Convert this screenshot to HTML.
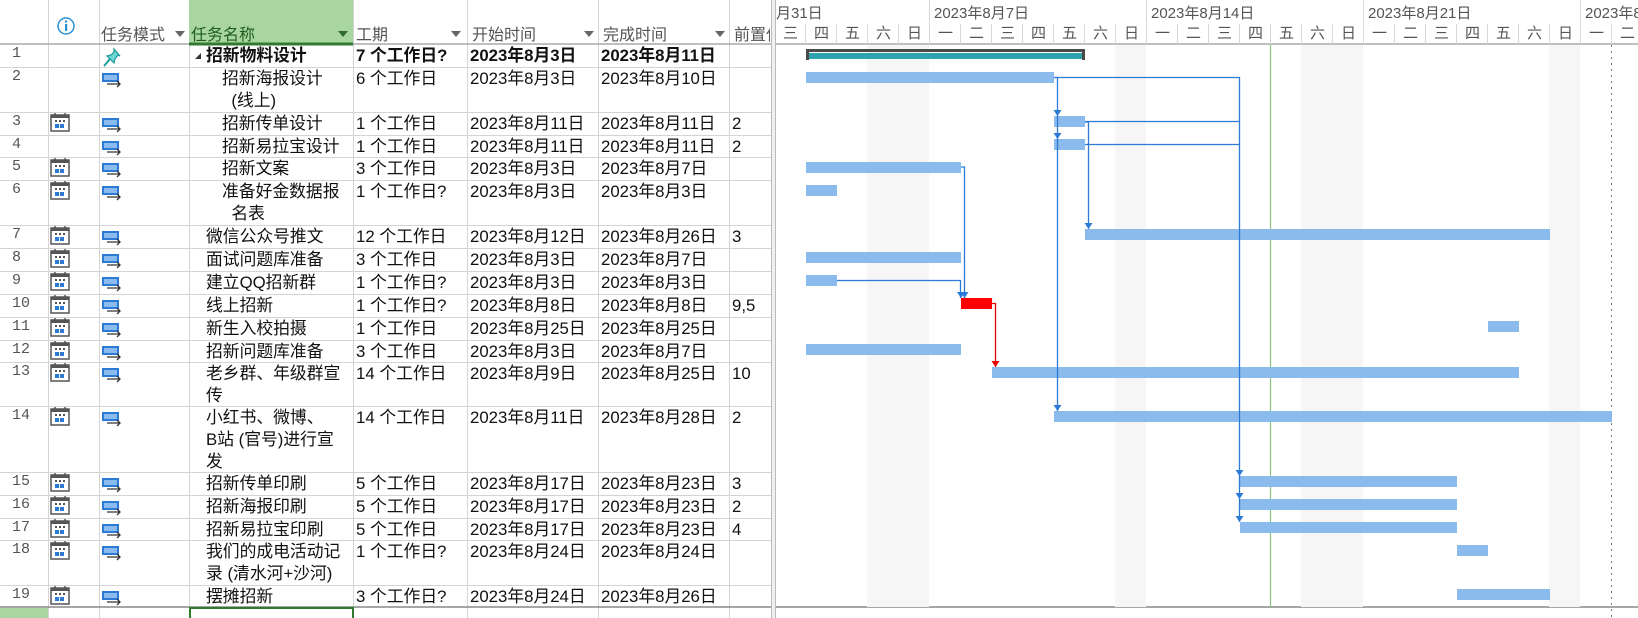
<!DOCTYPE html>
<html><head><meta charset="utf-8">
<style>
*{margin:0;padding:0;box-sizing:border-box}
body{width:1638px;height:618px;overflow:hidden;background:#fff;position:relative;font-family:"Liberation Sans","Noto Sans CJK SC",sans-serif;color:#111}
.t{position:absolute;font-size:16.8px;line-height:22px;white-space:nowrap}
.h{position:absolute;font-size:16px;color:#555;top:21px;white-space:nowrap}
.b{font-weight:bold}
.n{position:absolute;font-size:15px;color:#555;left:12px;font-family:"Liberation Mono",monospace}
.dd{position:absolute;top:31px;width:0;height:0;border-left:5px solid transparent;border-right:5px solid transparent;border-top:6px solid #666}
</style></head><body>
<svg width="1638" height="618" style="position:absolute;left:0;top:0">
<defs>
<g id="cal"><rect x="1" y="2" width="18" height="16" fill="#fff" stroke="#555" stroke-width="1.5"/><rect x="1" y="2" width="18" height="3" fill="#555"/><line x1="5" y1="0" x2="5" y2="3" stroke="#555" stroke-width="1.5"/><line x1="15" y1="0" x2="15" y2="3" stroke="#555" stroke-width="1.5"/><rect x="5" y="7" width="2" height="2" fill="#555"/><rect x="9" y="7" width="2" height="2" fill="#555"/><rect x="13" y="7" width="2" height="2" fill="#555"/><rect x="5" y="11" width="4" height="4" fill="#2b7bd6"/><rect x="10" y="11" width="4" height="4" fill="#2b7bd6"/></g>
<g id="mode"><rect x="0" y="0" width="17" height="9" fill="#2b7bd6"/><rect x="2" y="2" width="13" height="5" fill="#8bbbec"/><path d="M5 11 H18 M15 8 L18 11 L15 14" stroke="#333" stroke-width="1.3" fill="none"/></g>
<path id="ar" d="M-4 -6 H4 L0 0 Z"/>
</defs>
<g stroke="#d4d4d4" stroke-width="1">
<line x1="0" y1="67.5" x2="771" y2="67.5"/><line x1="0" y1="112.5" x2="771" y2="112.5"/><line x1="0" y1="135.5" x2="771" y2="135.5"/><line x1="0" y1="157.5" x2="771" y2="157.5"/><line x1="0" y1="180.5" x2="771" y2="180.5"/><line x1="0" y1="225.5" x2="771" y2="225.5"/><line x1="0" y1="248.5" x2="771" y2="248.5"/><line x1="0" y1="271.5" x2="771" y2="271.5"/><line x1="0" y1="294.5" x2="771" y2="294.5"/><line x1="0" y1="317.5" x2="771" y2="317.5"/><line x1="0" y1="340.5" x2="771" y2="340.5"/><line x1="0" y1="362.5" x2="771" y2="362.5"/><line x1="0" y1="406.5" x2="771" y2="406.5"/><line x1="0" y1="472.5" x2="771" y2="472.5"/><line x1="0" y1="495.5" x2="771" y2="495.5"/><line x1="0" y1="518.5" x2="771" y2="518.5"/><line x1="0" y1="540.5" x2="771" y2="540.5"/><line x1="0" y1="585.5" x2="771" y2="585.5"/>
<line x1="48.5" y1="0" x2="48.5" y2="618"/><line x1="99.5" y1="0" x2="99.5" y2="618"/><line x1="189.5" y1="0" x2="189.5" y2="618"/><line x1="353.5" y1="0" x2="353.5" y2="618"/><line x1="467.5" y1="0" x2="467.5" y2="618"/><line x1="598.5" y1="0" x2="598.5" y2="618"/><line x1="729.5" y1="0" x2="729.5" y2="618"/>
</g>
<rect x="189" y="0" width="164" height="44" fill="#a9d5a0"/>
<line x1="0" y1="44" x2="1638" y2="44" stroke="#aaa" stroke-width="1.5"/>
<line x1="189" y1="44" x2="353" y2="44" stroke="#2f7a2f" stroke-width="3"/>
<line x1="0" y1="607" x2="1638" y2="607" stroke="#888" stroke-width="1.5"/>
<rect x="0" y="608" width="48" height="10" fill="#a9d5a0"/>
<rect x="190" y="608" width="163" height="12" fill="none" stroke="#2f7a2f" stroke-width="2"/>
<rect x="771" y="0" width="4" height="618" fill="#f0f0f0"/>
<line x1="771.5" y1="0" x2="771.5" y2="618" stroke="#bbb"/><line x1="775.5" y1="0" x2="775.5" y2="618" stroke="#bbb"/>
<circle cx="66" cy="26" r="8" fill="none" stroke="#2b8fd6" stroke-width="1.5"/><rect x="65" y="24" width="2.2" height="7" fill="#2b8fd6"/><rect x="65" y="20.5" width="2.2" height="2" fill="#2b8fd6"/>
<g transform="translate(102,48)"><path d="M8 11 L2 18" stroke="#1a9a9a" stroke-width="2"/><path d="M5 8 L12 15 L13 11 L16 7 L18 8 L12 1 L12 4 L9 7 Z" fill="#6fd6d6" stroke="#1a9a9a" stroke-width="1.2"/></g>
<use href="#mode" x="102" y="73"/>
<use href="#cal" x="50" y="113"/><use href="#mode" x="102" y="118"/>
<use href="#mode" x="102" y="141"/>
<use href="#cal" x="50" y="158"/><use href="#mode" x="102" y="163"/>
<use href="#cal" x="50" y="181"/><use href="#mode" x="102" y="186"/>
<use href="#cal" x="50" y="226"/><use href="#mode" x="102" y="231"/>
<use href="#cal" x="50" y="249"/><use href="#mode" x="102" y="254"/>
<use href="#cal" x="50" y="272"/><use href="#mode" x="102" y="277"/>
<use href="#cal" x="50" y="295"/><use href="#mode" x="102" y="300"/>
<use href="#cal" x="50" y="318"/><use href="#mode" x="102" y="323"/>
<use href="#cal" x="50" y="341"/><use href="#mode" x="102" y="346"/>
<use href="#cal" x="50" y="363"/><use href="#mode" x="102" y="368"/>
<use href="#cal" x="50" y="407"/><use href="#mode" x="102" y="412"/>
<use href="#cal" x="50" y="473"/><use href="#mode" x="102" y="478"/>
<use href="#cal" x="50" y="496"/><use href="#mode" x="102" y="501"/>
<use href="#cal" x="50" y="519"/><use href="#mode" x="102" y="524"/>
<use href="#cal" x="50" y="541"/><use href="#mode" x="102" y="546"/>
<use href="#cal" x="50" y="586"/><use href="#mode" x="102" y="591"/>
<path d="M195 59 L201 59 L201 53 Z" fill="#333"/>
<g fill="#f6f6f6">
<rect x="867" y="45" width="62" height="562"/><rect x="1115" y="45" width="31" height="562"/><rect x="1301" y="45" width="62" height="562"/><rect x="1549" y="45" width="31" height="562"/>
</g>
<g stroke="#d8d8d8">
<line x1="929.5" y1="0" x2="929.5" y2="44"/><line x1="1146.5" y1="0" x2="1146.5" y2="44"/><line x1="1363.5" y1="0" x2="1363.5" y2="44"/><line x1="1580.5" y1="0" x2="1580.5" y2="44"/>
<line x1="805.5" y1="24" x2="805.5" y2="44"/><line x1="836.5" y1="24" x2="836.5" y2="44"/><line x1="867.5" y1="24" x2="867.5" y2="44"/><line x1="898.5" y1="24" x2="898.5" y2="44"/><line x1="960.5" y1="24" x2="960.5" y2="44"/><line x1="991.5" y1="24" x2="991.5" y2="44"/><line x1="1022.5" y1="24" x2="1022.5" y2="44"/><line x1="1053.5" y1="24" x2="1053.5" y2="44"/><line x1="1084.5" y1="24" x2="1084.5" y2="44"/><line x1="1115.5" y1="24" x2="1115.5" y2="44"/><line x1="1177.5" y1="24" x2="1177.5" y2="44"/><line x1="1208.5" y1="24" x2="1208.5" y2="44"/><line x1="1239.5" y1="24" x2="1239.5" y2="44"/><line x1="1270.5" y1="24" x2="1270.5" y2="44"/><line x1="1301.5" y1="24" x2="1301.5" y2="44"/><line x1="1332.5" y1="24" x2="1332.5" y2="44"/><line x1="1394.5" y1="24" x2="1394.5" y2="44"/><line x1="1425.5" y1="24" x2="1425.5" y2="44"/><line x1="1456.5" y1="24" x2="1456.5" y2="44"/><line x1="1487.5" y1="24" x2="1487.5" y2="44"/><line x1="1518.5" y1="24" x2="1518.5" y2="44"/><line x1="1549.5" y1="24" x2="1549.5" y2="44"/><line x1="1611.5" y1="24" x2="1611.5" y2="44"/>
</g>
<line x1="1270.5" y1="45" x2="1270.5" y2="607" stroke="#8cc67c" stroke-width="1.2"/>
<line x1="1611.5" y1="45" x2="1611.5" y2="618" stroke="#777" stroke-dasharray="2,4"/>
<rect x="806" y="49" width="279" height="3" fill="#4a4a4a"/><rect x="806" y="49" width="3" height="11" fill="#4a4a4a"/><rect x="1082" y="49" width="3" height="11" fill="#4a4a4a"/><rect x="809" y="53" width="273" height="6" fill="#2ea3ad"/>
<g fill="#8bbbec">
<rect x="806" y="72" width="248" height="11"/>
<rect x="1054" y="116" width="31" height="11"/>
<rect x="1054" y="139" width="31" height="11"/>
<rect x="806" y="162" width="155" height="11"/>
<rect x="806" y="185" width="31" height="11"/>
<rect x="1085" y="229" width="465" height="11"/>
<rect x="806" y="252" width="155" height="11"/>
<rect x="806" y="275" width="31" height="11"/>
<rect x="1488" y="321" width="31" height="11"/>
<rect x="806" y="344" width="155" height="11"/>
<rect x="992" y="367" width="527" height="11"/>
<rect x="1054" y="411" width="558" height="11"/>
<rect x="1240" y="476" width="217" height="11"/>
<rect x="1240" y="499" width="217" height="11"/>
<rect x="1240" y="522" width="217" height="11"/>
<rect x="1457" y="545" width="31" height="11"/>
<rect x="1457" y="589" width="93" height="11"/>
</g>
<rect x="961" y="298" width="31" height="11" fill="#f00"/>
<g stroke="#2b7bd6" stroke-width="1.3" fill="none">
<path d="M1054 77.5 H1239.5 V522"/>
<path d="M1054 77.5 H1057.5 V411"/>
<path d="M1085 121.5 H1239.5"/>
<path d="M1085 144.5 H1239.5"/>
<path d="M1085 122 H1088.5 V229"/>
<path d="M961 167 H964.5 V298"/>
<path d="M837 280.5 H960.5 V298"/>
</g>
<g fill="#2b7bd6">
<use href="#ar" x="1057.5" y="116"/><use href="#ar" x="1057.5" y="139"/><use href="#ar" x="1057.5" y="411"/>
<use href="#ar" x="1088.5" y="229"/>
<use href="#ar" x="1239.5" y="476"/><use href="#ar" x="1239.5" y="499"/><use href="#ar" x="1239.5" y="522"/>
<use href="#ar" x="961" y="298"/><use href="#ar" x="964.5" y="298"/>
</g>
<path d="M992 303.5 H995.5 V367" stroke="#e00" stroke-width="1.3" fill="none"/>
<use href="#ar" x="995.5" y="367" fill="#e00"/>
</svg>

<div class="h" style="left:101px">任务模式</div><div class="dd" style="left:175px"></div>
<div class="h" style="left:191px;color:#1d5e1d">任务名称</div><div class="dd" style="left:338px;border-top-color:#2f6a2f"></div>
<div class="h" style="left:356px">工期</div><div class="dd" style="left:451px"></div>
<div class="h" style="left:472px">开始时间</div><div class="dd" style="left:584px"></div>
<div class="h" style="left:603px">完成时间</div><div class="dd" style="left:715px"></div>
<div class="h" style="left:734px;width:36px;overflow:hidden">前置任务</div>
<div class="h" style="left:776px;top:2px;font-size:15px">月31日</div>
<div class="h" style="left:934px;top:2px;font-size:15px">2023年8月7日</div>
<div class="h" style="left:1151px;top:2px;font-size:15px">2023年8月14日</div>
<div class="h" style="left:1368px;top:2px;font-size:15px">2023年8月21日</div>
<div class="h" style="left:1585px;top:2px;font-size:15px;width:53px;overflow:hidden">2023年8月28日</div>
<div class="h" style="left:775px;top:22px;font-size:15px;display:flex">
<span style="width:31px;text-align:center">三</span><span style="width:31px;text-align:center">四</span><span style="width:31px;text-align:center">五</span><span style="width:31px;text-align:center">六</span><span style="width:31px;text-align:center">日</span><span style="width:31px;text-align:center">一</span><span style="width:31px;text-align:center">二</span><span style="width:31px;text-align:center">三</span><span style="width:31px;text-align:center">四</span><span style="width:31px;text-align:center">五</span><span style="width:31px;text-align:center">六</span><span style="width:31px;text-align:center">日</span><span style="width:31px;text-align:center">一</span><span style="width:31px;text-align:center">二</span><span style="width:31px;text-align:center">三</span><span style="width:31px;text-align:center">四</span><span style="width:31px;text-align:center">五</span><span style="width:31px;text-align:center">六</span><span style="width:31px;text-align:center">日</span><span style="width:31px;text-align:center">一</span><span style="width:31px;text-align:center">二</span><span style="width:31px;text-align:center">三</span><span style="width:31px;text-align:center">四</span><span style="width:31px;text-align:center">五</span><span style="width:31px;text-align:center">六</span><span style="width:31px;text-align:center">日</span><span style="width:31px;text-align:center">一</span><span style="width:31px;text-align:center">二</span></div>

<div class="n" style="top:45px">1</div><div class="n" style="top:68px">2</div><div class="n" style="top:113px">3</div><div class="n" style="top:136px">4</div><div class="n" style="top:158px">5</div><div class="n" style="top:181px">6</div><div class="n" style="top:226px">7</div><div class="n" style="top:249px">8</div><div class="n" style="top:272px">9</div><div class="n" style="top:295px">10</div><div class="n" style="top:318px">11</div><div class="n" style="top:341px">12</div><div class="n" style="top:363px">13</div><div class="n" style="top:407px">14</div><div class="n" style="top:473px">15</div><div class="n" style="top:496px">16</div><div class="n" style="top:519px">17</div><div class="n" style="top:541px">18</div><div class="n" style="top:586px">19</div>

<div class="t b" style="top:45px;left:206px">招新物料设计</div><div class="t b" style="top:45px;left:356px">7 个工作日?</div><div class="t b" style="top:45px;left:470px">2023年8月3日</div><div class="t b" style="top:45px;left:601px">2023年8月11日</div>

<div class="t" style="top:68px;left:222px">招新海报设计<br>&nbsp;&nbsp;(线上)</div><div class="t" style="top:68px;left:356px">6 个工作日</div><div class="t" style="top:68px;left:470px">2023年8月3日</div><div class="t" style="top:68px;left:601px">2023年8月10日</div>

<div class="t" style="top:113px;left:222px">招新传单设计</div><div class="t" style="top:113px;left:356px">1 个工作日</div><div class="t" style="top:113px;left:470px">2023年8月11日</div><div class="t" style="top:113px;left:601px">2023年8月11日</div><div class="t" style="top:113px;left:732px">2</div>

<div class="t" style="top:136px;left:222px">招新易拉宝设计</div><div class="t" style="top:136px;left:356px">1 个工作日</div><div class="t" style="top:136px;left:470px">2023年8月11日</div><div class="t" style="top:136px;left:601px">2023年8月11日</div><div class="t" style="top:136px;left:732px">2</div>

<div class="t" style="top:158px;left:222px">招新文案</div><div class="t" style="top:158px;left:356px">3 个工作日</div><div class="t" style="top:158px;left:470px">2023年8月3日</div><div class="t" style="top:158px;left:601px">2023年8月7日</div>

<div class="t" style="top:181px;left:222px">准备好金数据报<br>&nbsp;&nbsp;名表</div><div class="t" style="top:181px;left:356px">1 个工作日?</div><div class="t" style="top:181px;left:470px">2023年8月3日</div><div class="t" style="top:181px;left:601px">2023年8月3日</div>

<div class="t" style="top:226px;left:206px">微信公众号推文</div><div class="t" style="top:226px;left:356px">12 个工作日</div><div class="t" style="top:226px;left:470px">2023年8月12日</div><div class="t" style="top:226px;left:601px">2023年8月26日</div><div class="t" style="top:226px;left:732px">3</div>

<div class="t" style="top:249px;left:206px">面试问题库准备</div><div class="t" style="top:249px;left:356px">3 个工作日</div><div class="t" style="top:249px;left:470px">2023年8月3日</div><div class="t" style="top:249px;left:601px">2023年8月7日</div>

<div class="t" style="top:272px;left:206px">建立QQ招新群</div><div class="t" style="top:272px;left:356px">1 个工作日?</div><div class="t" style="top:272px;left:470px">2023年8月3日</div><div class="t" style="top:272px;left:601px">2023年8月3日</div>

<div class="t" style="top:295px;left:206px">线上招新</div><div class="t" style="top:295px;left:356px">1 个工作日?</div><div class="t" style="top:295px;left:470px">2023年8月8日</div><div class="t" style="top:295px;left:601px">2023年8月8日</div><div class="t" style="top:295px;left:732px">9,5</div>

<div class="t" style="top:318px;left:206px">新生入校拍摄</div><div class="t" style="top:318px;left:356px">1 个工作日</div><div class="t" style="top:318px;left:470px">2023年8月25日</div><div class="t" style="top:318px;left:601px">2023年8月25日</div>

<div class="t" style="top:341px;left:206px">招新问题库准备</div><div class="t" style="top:341px;left:356px">3 个工作日</div><div class="t" style="top:341px;left:470px">2023年8月3日</div><div class="t" style="top:341px;left:601px">2023年8月7日</div>

<div class="t" style="top:363px;left:206px">老乡群、年级群宣<br>传</div><div class="t" style="top:363px;left:356px">14 个工作日</div><div class="t" style="top:363px;left:470px">2023年8月9日</div><div class="t" style="top:363px;left:601px">2023年8月25日</div><div class="t" style="top:363px;left:732px">10</div>

<div class="t" style="top:407px;left:206px">小红书、微博、<br>B站 (官号)进行宣<br>发</div><div class="t" style="top:407px;left:356px">14 个工作日</div><div class="t" style="top:407px;left:470px">2023年8月11日</div><div class="t" style="top:407px;left:601px">2023年8月28日</div><div class="t" style="top:407px;left:732px">2</div>

<div class="t" style="top:473px;left:206px">招新传单印刷</div><div class="t" style="top:473px;left:356px">5 个工作日</div><div class="t" style="top:473px;left:470px">2023年8月17日</div><div class="t" style="top:473px;left:601px">2023年8月23日</div><div class="t" style="top:473px;left:732px">3</div>

<div class="t" style="top:496px;left:206px">招新海报印刷</div><div class="t" style="top:496px;left:356px">5 个工作日</div><div class="t" style="top:496px;left:470px">2023年8月17日</div><div class="t" style="top:496px;left:601px">2023年8月23日</div><div class="t" style="top:496px;left:732px">2</div>

<div class="t" style="top:519px;left:206px">招新易拉宝印刷</div><div class="t" style="top:519px;left:356px">5 个工作日</div><div class="t" style="top:519px;left:470px">2023年8月17日</div><div class="t" style="top:519px;left:601px">2023年8月23日</div><div class="t" style="top:519px;left:732px">4</div>

<div class="t" style="top:541px;left:206px">我们的成电活动记<br>录 (清水河+沙河)</div><div class="t" style="top:541px;left:356px">1 个工作日?</div><div class="t" style="top:541px;left:470px">2023年8月24日</div><div class="t" style="top:541px;left:601px">2023年8月24日</div>

<div class="t" style="top:586px;left:206px">摆摊招新</div><div class="t" style="top:586px;left:356px">3 个工作日?</div><div class="t" style="top:586px;left:470px">2023年8月24日</div><div class="t" style="top:586px;left:601px">2023年8月26日</div>
</body></html>
